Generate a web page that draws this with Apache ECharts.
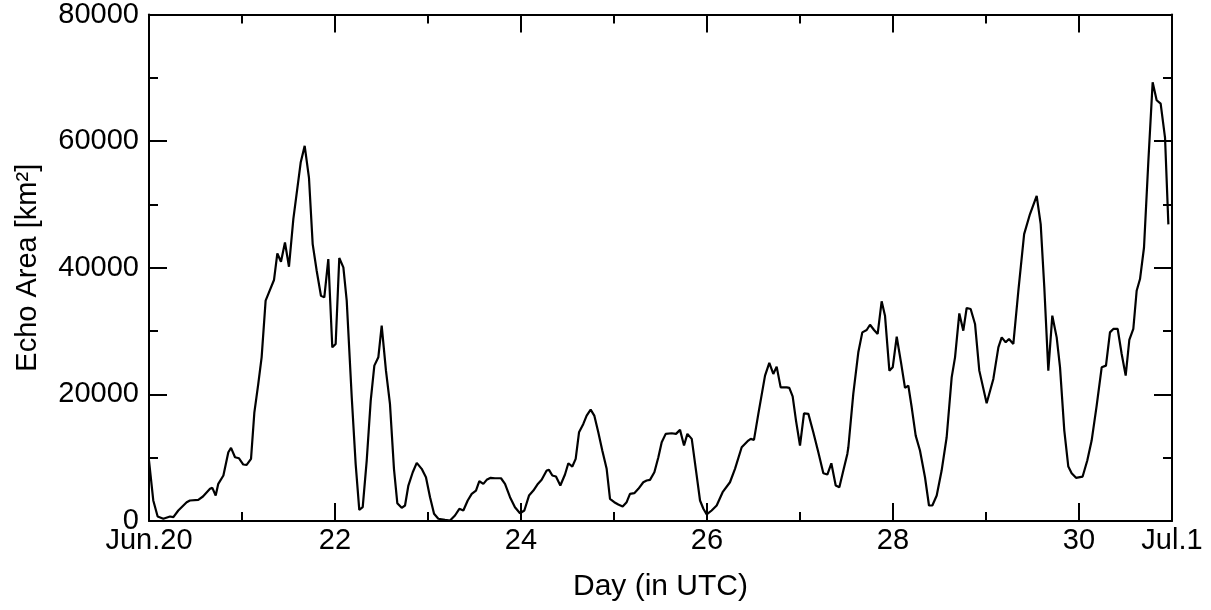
<!DOCTYPE html>
<html>
<head>
<meta charset="utf-8">
<script src="https://cdn.jsdelivr.net/npm/echarts@6/dist/echarts.min.js"></script>
<style>
html,body{margin:0;padding:0;background:#fff;}
#chart{width:1211px;height:610px;}
</style>
</head>
<body>
<div id="chart"></div>
<script>
// Time in days (20 = Jun.20 00 UTC, 31 = Jul.1 00 UTC)
const days = [
20.000,20.046,20.093,20.154,20.226,20.262,20.315,20.405,20.440,20.530,
20.580,20.656,20.681,20.717,20.745,20.800,20.853,20.882,20.925,20.968,
21.014,21.050,21.097,21.133,21.175,21.211,21.254,21.290,21.344,21.380,
21.419,21.462,21.505,21.552,21.631,21.674,21.720,21.760,21.803,21.849,
21.885,21.928,21.971,22.007,22.046,22.090,22.126,22.180,22.222,22.261,
22.298,22.341,22.384,22.423,22.466,22.502,22.548,22.591,22.634,22.670,
22.717,22.753,22.789,22.836,22.879,22.932,22.978,23.022,23.065,23.111,
23.183,23.237,23.290,23.337,23.380,23.427,23.470,23.516,23.552,23.595,
23.631,23.674,23.720,23.785,23.828,23.882,23.935,23.989,24.036,24.086,
24.133,24.176,24.222,24.276,24.301,24.337,24.376,24.423,24.473,24.509,
24.552,24.588,24.624,24.670,24.706,24.749,24.788,24.831,24.874,24.921,
24.957,25.003,25.046,25.093,25.136,25.172,25.218,25.262,25.315,25.351,
25.387,25.434,25.477,25.513,25.556,25.620,25.667,25.710,25.753,25.789,
25.836,25.882,25.925,25.961,25.997,26.050,26.104,26.168,26.247,26.301,
26.373,26.444,26.470,26.505,26.552,26.624,26.670,26.713,26.749,26.792,
26.857,26.885,26.921,26.957,27.000,27.043,27.090,27.143,27.197,27.251,
27.294,27.337,27.384,27.423,27.466,27.509,27.520,27.573,27.627,27.670,
27.717,27.753,27.796,27.835,27.878,27.914,27.961,27.997,28.040,28.086,
28.129,28.165,28.201,28.244,28.290,28.344,28.387,28.423,28.470,28.523,
28.577,28.631,28.667,28.713,28.756,28.792,28.835,28.882,28.928,29.007,
29.079,29.133,29.169,29.212,29.247,29.294,29.348,29.410,29.473,29.545,
29.588,29.627,29.670,29.713,29.760,29.796,29.842,29.885,29.921,29.968,
30.039,30.089,30.136,30.190,30.244,30.290,30.333,30.369,30.416,30.459,
30.502,30.541,30.584,30.620,30.656,30.699,30.746,30.792,30.835,30.878,
30.925,30.961
];
// Echo area in km^2
const echoArea = [
9550,3240,710,350,710,600,1660,2970,3240,3350,
3870,5080,5240,4020,5870,7180,10860,11550,10070,9910,
8920,8870,9820,17170,21650,25850,34800,36100,38060,42260,
40950,44000,40160,47690,56620,59250,54250,43740,39530,35580,
35320,41370,27430,27960,41530,40050,34800,19540,9030,1770,
2180,9550,19020,24540,25850,30850,23750,18500,8240,2810,
2080,2450,5600,7700,9180,8240,6910,3760,1140,350,
190,80,870,1930,1660,3240,4290,4810,6280,5870,
6500,6820,6750,6750,5870,3760,2180,1230,1660,4020,
4810,5760,6500,7970,8080,7180,7020,5600,7340,9120,
8600,9820,14010,15340,16650,17600,16650,14010,11130,8240,
3500,2970,2600,2290,2970,4290,4390,5080,6120,6390,
6500,7700,10070,12440,13760,13860,13760,14390,11920,13760,
12970,7970,3240,1930,1030,1660,2450,4550,6120,8240,
11650,12700,12970,12810,16920,22960,24960,23230,24380,21110,
21110,21020,19690,15860,11920,17010,16920,14010,10860,7540,
7340,9120,5600,5330,7970,10600,11650,20070,26640,29790,
30170,31000,30170,29540,34690,32430,23750,24270,29110,25060,
21020,21380,17960,13490,11130,6910,2450,2450,4020,7970,
13230,22690,25850,32790,30060,33640,33480,31120,23750,18590,
22440,27430,29000,28220,28750,27960,36370,45320,48480,51360,
46900,36890,23750,32430,29000,24270,14280,8600,7540,6820,
7020,9550,12700,18230,24270,24540,29790,30330,30330,26380,
22960,28590,30330,36370,38220,43200,56890,69300,66460,65930,
60560,46850
];
// Tick labels on the x axis
const xTickValues = [20, 22, 24, 26, 28, 30, 31];
const xTickLabels = ['Jun.20', '22', '24', '26', '28', '30', 'Jul.1'];
const xTitle = 'Day (in UTC)';
const yTitle = 'Echo Area [km²]';

const seriesData = days.map((d, i) => [d, echoArea[i]]);
const FONT = '"Liberation Sans", Arial, Helvetica, sans-serif';
const BLACK = '#000';

function xAx(pos, interval, tickLen, withLabels, withLine) {
  return {
    type: 'value', position: pos, min: 20, max: 31, interval: interval,
    axisLine: { show: withLine, onZero: false, lineStyle: { color: BLACK, width: 2 } },
    axisTick: { show: true, inside: true, length: tickLen, lineStyle: { color: BLACK, width: 2 } },
    splitLine: { show: false },
    axisLabel: withLabels ? {
      show: true, color: BLACK, fontSize: 29, fontFamily: FONT, margin: 5,
      formatter: function (v) {
        const k = xTickValues.indexOf(Math.round(v));
        return (k >= 0 && Math.abs(v - Math.round(v)) < 1e-6) ? xTickLabels[k] : '';
      }
    } : { show: false },
    name: withLabels ? xTitle : '',
    nameLocation: 'middle', nameGap: 51,
    nameTextStyle: { color: BLACK, fontSize: 30, fontFamily: FONT }
  };
}
function yAx(pos, withLabels) {
  return {
    type: 'value', position: pos, min: 0, max: 80000, interval: 20000,
    axisLine: { show: true, onZero: false, lineStyle: { color: BLACK, width: 2 } },
    axisTick: { show: true, inside: true, length: 18, lineStyle: { color: BLACK, width: 2 } },
    minorTick: { show: true, splitNumber: 2, length: 9, lineStyle: { color: BLACK, width: 2 } },
    splitLine: { show: false }, minorSplitLine: { show: false },
    axisLabel: withLabels ? {
      show: true, color: BLACK, fontSize: 29, fontFamily: FONT, margin: 10,
      formatter: function (v) { return String(v); }
    } : { show: false },
    name: withLabels ? yTitle : '',
    nameLocation: 'middle', nameGap: 107, nameRotate: 90,
    nameTextStyle: { color: BLACK, fontSize: 29, fontFamily: FONT }
  };
}

const chart = echarts.init(document.getElementById('chart'), null, { renderer: 'canvas' });
chart.setOption({
  backgroundColor: '#fff',
  animation: false,
  grid: { left: 149, top: 14, width: 1023, height: 507, containLabel: false },
  xAxis: [
    xAx('bottom', 1, 9, true, true),
    xAx('bottom', 2, 18, false, false),
    xAx('top', 1, 9, false, true),
    xAx('top', 2, 18, false, false)
  ],
  yAxis: [yAx('left', true), yAx('right', false)],
  series: [{
    type: 'line', xAxisIndex: 0, yAxisIndex: 0,
    data: seriesData, showSymbol: false, symbol: 'none',
    lineStyle: { color: BLACK, width: 2.2 }
  }]
});
</script>
</body>
</html>
